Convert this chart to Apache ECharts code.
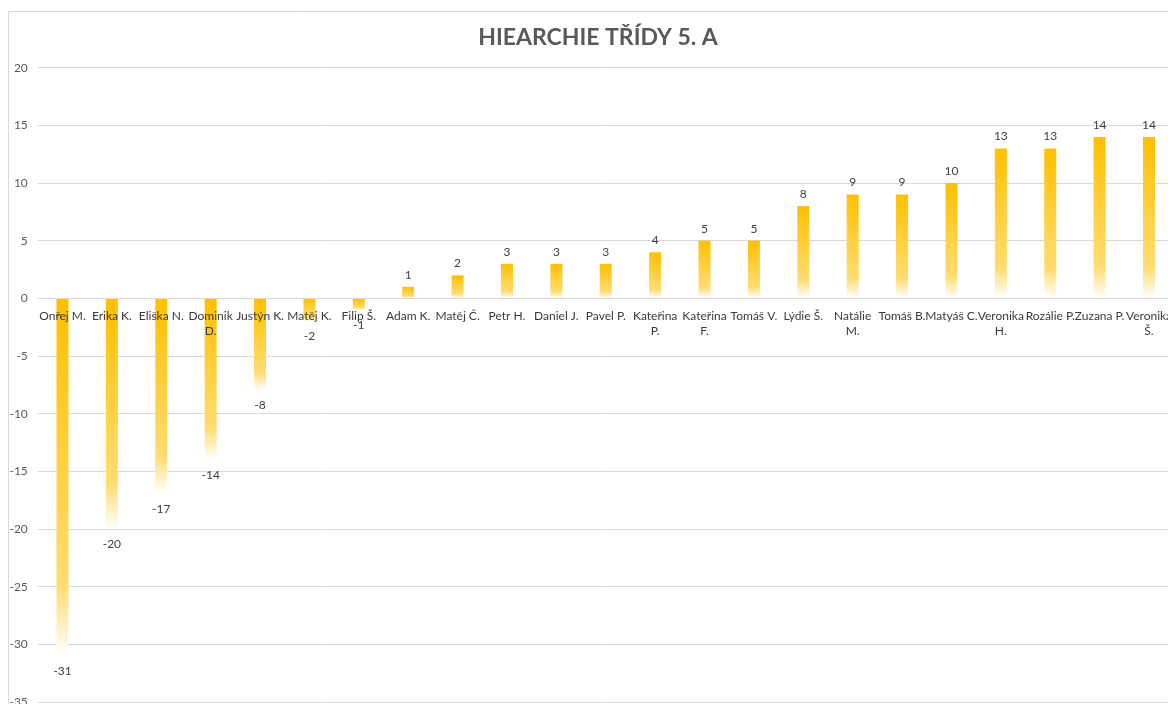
<!DOCTYPE html>
<html>
<head>
<meta charset="utf-8">
<script src="https://cdn.jsdelivr.net/npm/echarts@6/dist/echarts.min.js"></script>
<style>html,body{margin:0;padding:0;background:#fff}#c{width:1168px;height:704px}</style>
</head>
<body>
<div id="c"></div>
<script>
const titleText = 'HIEARCHIE TŘÍDY 5. A';
const categories = ['Onřej M.', 'Erika K.', 'Eliška N.', 'Dominik\nD.', 'Justýn K.', 'Matěj K.', 'Filip Š.', 'Adam K.', 'Matěj Č.', 'Petr H.', 'Daniel J.', 'Pavel P.', 'Kateřina\nP.', 'Kateřina\nF.', 'Tomáš V.', 'Lýdie Š.', 'Natálie\nM.', 'Tomáš B.', 'Matyáš C.', 'Veronika\nH.', 'Rozálie P.', 'Zuzana P.', 'Veronika\nŠ.'];
const values = [-31, -20, -17, -14, -8, -2, -1, 1, 2, 3, 3, 3, 4, 5, 5, 8, 9, 9, 10, 13, 13, 14, 14];
const yMin = -35, yMax = 20, yStep = 5;

const FONT = 'Lato, "Open Sans", sans-serif';
const H = 704, GT = 67.7, GB = 2;
const gridH = H - GT - GB;
const zeroOffset = -gridH * (0 - yMin) / (yMax - yMin);

const chart = echarts.init(document.getElementById('c'), null, {renderer: 'canvas'});
chart.setOption({
  animation: false,
  backgroundColor: '#fff',
  graphic: [{
    type: 'rect', silent: true, z: -10,
    shape: {x: 8.5, y: 11.5, width: 1300, height: 900},
    style: {fill: 'none', stroke: '#d9d9d9', lineWidth: 1}
  }],
  title: {
    text: titleText, left: 593, top: 21, textAlign: 'center',
    textStyle: {fontFamily: FONT, fontSize: 23, fontWeight: 'bold', color: '#595959'}
  },
  grid: {left: 37.8, right: -5.7, top: GT, bottom: GB, containLabel: false, outerBoundsMode: 'none'},
  xAxis: {
    type: 'category', data: categories, position: 'bottom', offset: zeroOffset, z: 5,
    axisLine: {onZero: false, lineStyle: {color: '#d9d9d9', width: 1}},
    axisTick: {show: false},
    axisLabel: {interval: 0, margin: 10, color: '#3a3a3a', fontFamily: FONT, fontSize: 12, lineHeight: 15}
  },
  yAxis: {
    type: 'value', min: yMin, max: yMax, interval: yStep,
    axisLine: {show: false}, axisTick: {show: false},
    splitLine: {lineStyle: {color: '#d9d9d9', width: 1}},
    axisLabel: {margin: 10, color: '#595959', fontFamily: FONT, fontSize: 12}
  },
  series: [{
    type: 'bar', barWidth: 12,
    data: values.map(v => ({value: v, label: {position: v < 0 ? 'bottom' : 'top', distance: v < 0 ? 9 : 6}})),
    itemStyle: {
      color: new echarts.graphic.LinearGradient(0, 0, 0, 1, [
        {offset: 0, color: '#FFC000'},
        {offset: 0.8, color: '#FFDC70'},
        {offset: 1, color: '#FFFFFF'}
      ])
    },
    label: {show: true, color: '#404040', fontFamily: FONT, fontSize: 12}
  }]
});
</script>
</body>
</html>
